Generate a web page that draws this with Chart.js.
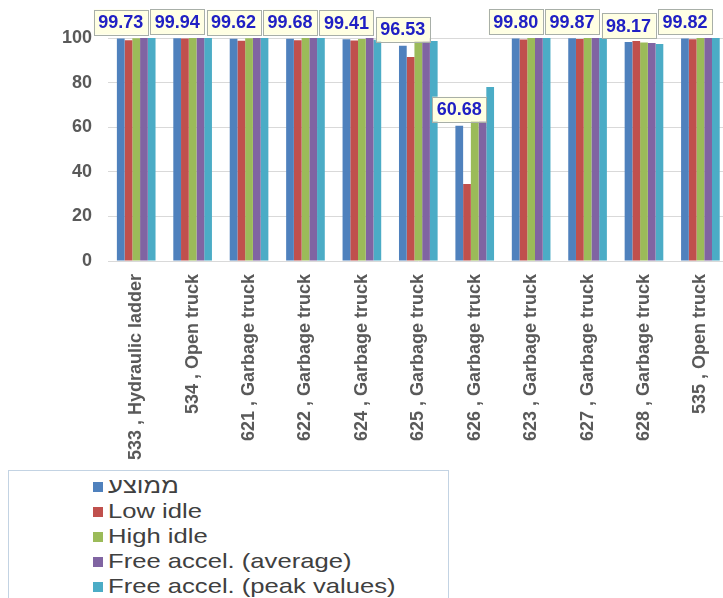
<!DOCTYPE html>
<html>
<head>
<meta charset="utf-8">
<script src="https://cdn.jsdelivr.net/npm/chart.js@4"></script>
<style>
  html, body { margin: 0; padding: 0; background: #fff; overflow: hidden; width: 723px; height: 598px; }
  #wrap { position: absolute; left: 0; top: 0; width: 735px; height: 465px; }
  #legend { position: absolute; left: 8px; top: 470px; width: 441px; height: 160px;
            border: 1px solid #c3d3e3; box-sizing: border-box; background: #fff;
            font-family: "Liberation Sans", Arial, sans-serif; font-size: 21px; color: #404040; }
  .row { position: absolute; left: 84px; height: 25px; line-height: 25px; white-space: nowrap; }
  .sw { display: inline-block; width: 10px; height: 10px; margin-right: 5px; vertical-align: 1px; }
  .tx { display: inline-block; transform: scaleX(1.22); transform-origin: left center; }
</style>
</head>
<body>
<div id="wrap"><canvas id="c"></canvas></div>
<div id="legend"></div>
<script>
const categories = ["533 , Hydraulic ladder", "534 , Open truck", "621 , Garbage truck", "622 , Garbage truck",
  "624 , Garbage truck", "625 , Garbage truck", "626 , Garbage truck", "623 , Garbage truck",
  "627 , Garbage truck", "628 , Garbage truck", "535 , Open truck"];
const seriesNames = ["ממוצע", "Low idle", "High idle", "Free accel. (average)", "Free accel. (peak values)"];
const seriesColors = ["#4F81BD", "#C0504D", "#9BBB59", "#8064A2", "#4BACC6"];
const averageValues  = [99.73, 99.94, 99.62, 99.68, 99.41, 96.53, 60.68, 99.80, 99.87, 98.17, 99.82];
const lowIdleValues  = [99.0, 99.8, 98.8, 99.0, 98.9, 91.5, 34.5, 99.3, 99.5, 98.7, 99.4];
const highIdleValues = [99.9, 100, 99.9, 100, 99.6, 99.5, 63, 100, 100, 98.0, 100];
const freeAvgValues  = [100, 100, 100, 100, 100, 99.9, 63, 100, 100, 97.8, 100];
const freePeakValues = [100, 100, 100, 100, 99.2, 98.7, 78, 100, 100, 97.3, 100];
const yTicks = [0, 20, 40, 60, 80, 100];

const allValues = [averageValues, lowIdleValues, highIdleValues, freeAvgValues, freePeakValues];

const labelPlugin = {
  id: 'avgLabels',
  afterDatasetsDraw(chart) {
    const ctx = chart.ctx;
    const meta = chart.getDatasetMeta(0);
    ctx.save();
    ctx.font = 'bold 18px "Liberation Sans", Arial, sans-serif';
    ctx.textAlign = 'center';
    ctx.textBaseline = 'middle';
    meta.data.forEach((bar, i) => {
      const txt = averageValues[i].toFixed(2);
      const w = ctx.measureText(txt).width + 9;
      const h = 25;
      const x = bar.x;
      const bottom = bar.y - 4;
      const top = bottom - h;
      ctx.fillStyle = '#FFFFE3';
      ctx.fillRect(x - w / 2, top, w, h);
      ctx.strokeStyle = '#A8AFA8';
      ctx.lineWidth = 1;
      ctx.strokeRect(Math.round(x - w / 2) + 0.5, Math.round(top) + 0.5, Math.round(w), h);
      ctx.fillStyle = '#2020C4';
      ctx.fillText(txt, x, top + h / 2 + 1);
    });
    ctx.restore();
  }
};

new Chart(document.getElementById('c'), {
  type: 'bar',
  data: {
    labels: categories,
    datasets: seriesNames.map((n, i) => ({
      label: n,
      data: allValues[i],
      backgroundColor: seriesColors[i],
      borderWidth: 0,
      categoryPercentage: 0.685,
      barPercentage: 1.0
    }))
  },
  options: {
    responsive: true,
    maintainAspectRatio: false,
    animation: false,
    layout: { padding: { top: 38, right: 0, left: 0, bottom: 0 } },
    plugins: { legend: { display: false }, tooltip: { enabled: false } },
    scales: {
      x: {
        grid: { display: false, drawTicks: false },
        border: { display: false },
        ticks: {
          maxRotation: 90, minRotation: 90, autoSkip: false, padding: 13,
          color: '#595959',
          font: { family: '"Liberation Sans", Arial, sans-serif', size: 18, weight: 'bold' }
        },
        afterFit(s) { s.height = 204; }
      },
      y: {
        min: 0, max: 100,
        afterBuildTicks(s) { s.ticks = yTicks.map(v => ({ value: v })); },
        grid: { color: '#D9D9D9', lineWidth: 1, drawTicks: false },
        border: { display: false },
        ticks: {
          padding: 16,
          color: '#595959',
          font: { family: '"Liberation Sans", Arial, sans-serif', size: 18, weight: 'bold' }
        },
        afterFit(s) { s.width = 108; }
      }
    }
  },
  plugins: [labelPlugin]
});

const lg = document.getElementById('legend');
seriesNames.forEach((n, i) => {
  const r = document.createElement('div');
  r.className = 'row';
  r.style.top = (2 + i * 25) + 'px';
  const sw = document.createElement('span');
  sw.className = 'sw';
  sw.style.background = seriesColors[i];
  const t = document.createElement('span');
  t.className = 'tx';
  t.textContent = n;
  r.appendChild(sw);
  r.appendChild(t);
  lg.appendChild(r);
});
</script>
</body>
</html>
